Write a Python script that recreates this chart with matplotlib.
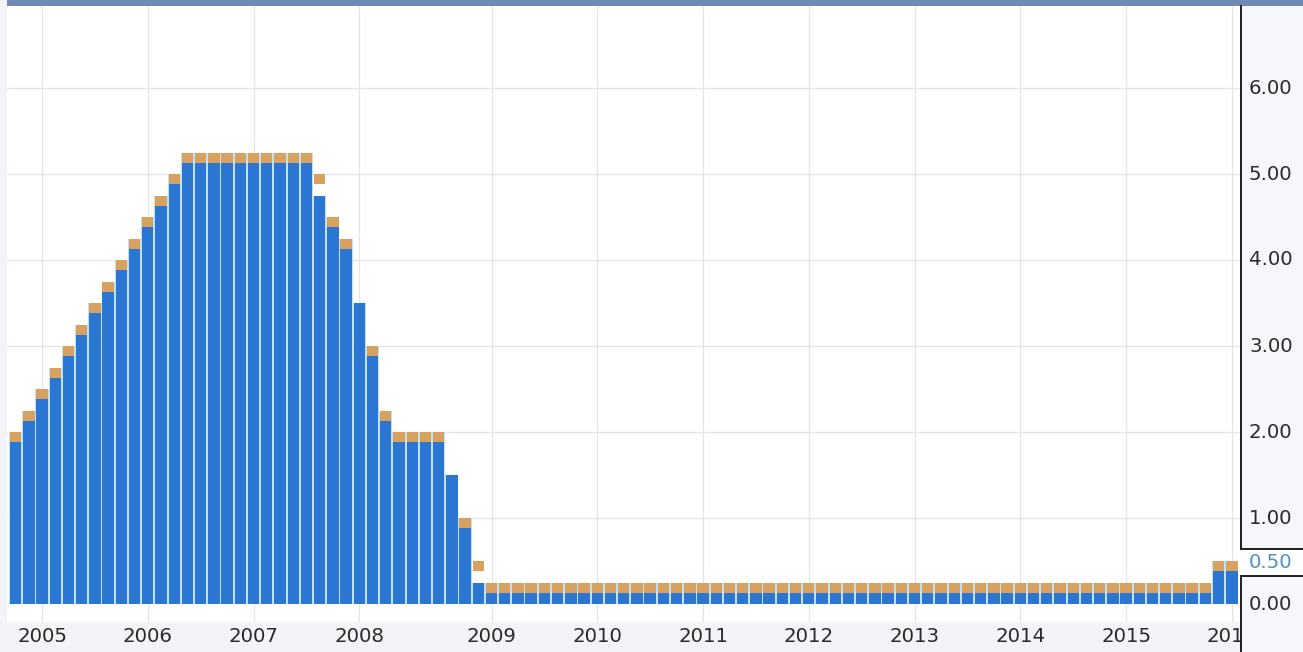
import matplotlib
matplotlib.use('Agg')
import matplotlib.pyplot as plt
import numpy as np
from matplotlib.patches import Rectangle
from matplotlib.lines import Line2D
from matplotlib.transforms import blended_transform_factory

# ---------------- data (one entry per FOMC meeting, Nov 2004 - Jan 2016) -------------
actual = [
    2.00, 2.25,                                           # 2004 (Nov, Dec)
    2.50, 2.75, 3.00, 3.25, 3.50, 3.75, 4.00, 4.25,       # 2005
    4.50, 4.75, 5.00, 5.25, 5.25, 5.25, 5.25, 5.25,       # 2006
    5.25, 5.25, 5.25, 5.25, 5.25, 4.75, 4.50, 4.25,       # 2007
    3.50, 3.00, 2.25, 2.00, 2.00, 2.00, 2.00, 1.50, 1.00, 0.25,  # 2008
    0.25, 0.25, 0.25, 0.25, 0.25, 0.25, 0.25, 0.25,       # 2009
    0.25, 0.25, 0.25, 0.25, 0.25, 0.25, 0.25, 0.25,       # 2010
    0.25, 0.25, 0.25, 0.25, 0.25, 0.25, 0.25, 0.25,       # 2011
    0.25, 0.25, 0.25, 0.25, 0.25, 0.25, 0.25, 0.25,       # 2012
    0.25, 0.25, 0.25, 0.25, 0.25, 0.25, 0.25, 0.25,       # 2013
    0.25, 0.25, 0.25, 0.25, 0.25, 0.25, 0.25, 0.25,       # 2014
    0.25, 0.25, 0.25, 0.25, 0.25, 0.25, 0.25, 0.50,       # 2015
    0.50,                                                 # 2016
]
forecast = [
    2.00, 2.25,
    2.50, 2.75, 3.00, 3.25, 3.50, 3.75, 4.00, 4.25,
    4.50, 4.75, 5.00, 5.25, 5.25, 5.25, 5.25, 5.25,
    5.25, 5.25, 5.25, 5.25, 5.25, 5.00, 4.50, 4.25,
    np.nan, 3.00, 2.25, 2.00, 2.00, 2.00, 2.00, np.nan, 1.00, 0.50,
    0.25, 0.25, 0.25, 0.25, 0.25, 0.25, 0.25, 0.25,
    0.25, 0.25, 0.25, 0.25, 0.25, 0.25, 0.25, 0.25,
    0.25, 0.25, 0.25, 0.25, 0.25, 0.25, 0.25, 0.25,
    0.25, 0.25, 0.25, 0.25, 0.25, 0.25, 0.25, 0.25,
    0.25, 0.25, 0.25, 0.25, 0.25, 0.25, 0.25, 0.25,
    0.25, 0.25, 0.25, 0.25, 0.25, 0.25, 0.25, 0.25,
    0.25, 0.25, 0.25, 0.25, 0.25, 0.25, 0.25, 0.50,
    0.50,
]
year_labels = ['2005', '2006', '2007', '2008', '2009', '2010',
               '2011', '2012', '2013', '2014', '2015', '2016']
year_first_meeting = [2, 10, 18, 26, 36, 44, 52, 60, 68, 76, 84, 92]
y_ticks = [0, 1, 2, 3, 4, 5, 6]
y_tick_labels = ['0.00', '1.00', '2.00', '3.00', '4.00', '5.00', '6.00']
current_value = 0.50
current_label = '0.50'

# ---------------- figure ----------------
W, H = 1303, 652
fig = plt.figure(figsize=(W / 100, H / 100), dpi=100)
fig.patch.set_facecolor('#f2f4f7')

ax_left, ax_right, ax_top, ax_bottom = 7, 1241, 6, 622
ax = fig.add_axes([ax_left / W, 1 - ax_bottom / H,
                   (ax_right - ax_left) / W, (ax_bottom - ax_top) / H])
ax.set_facecolor('white')

blue = '#2b76d3'
orange = '#d9a160'
sep = '#bfe2f2'
x = np.arange(len(actual))
act = np.array(actual)
fc = np.array(forecast, dtype=float)
mark_h = 0.12
bw = 0.86

ax.bar(x, act, width=1.0, color=sep, edgecolor='none', zorder=1.5)
ax.bar(x, act, width=bw, color=blue, edgecolor='none', zorder=2)
ax.bar(x, np.full(len(fc), mark_h), bottom=fc - mark_h, width=bw,
       color=orange, edgecolor='none', zorder=3)

# value scale: 0 at y=604, 86 px per unit
px = 86.0
y0 = 604
ax.set_ylim(-(ax_bottom - y0) / px, (y0 - ax_top) / px)
x_left = (ax_left - 15.6) / 13.22
x_right = x_left + (ax_right - ax_left) / 13.22
ax.set_xlim(x_left, x_right)

ax.set_xticks(year_first_meeting)
ax.set_yticks(y_ticks[1:])
ax.grid(True, color='#e3e6ea', linewidth=1.0, zorder=0)
ax.set_axisbelow(True)
ax.tick_params(length=0, labelbottom=False, labelleft=False)
for s in ax.spines.values():
    s.set_visible(False)

# x labels (years)
tr = blended_transform_factory(ax.transData, fig.transFigure)
for xi, lab in zip(year_first_meeting, year_labels):
    ax.text(xi, 1 - 636.5 / H, lab, transform=tr, ha='center', va='center',
            fontsize=14.2, color='#2b2b2b', family='DejaVu Sans', clip_on=False)

# top band
fig.add_artist(Rectangle((ax_left / W, 1 - 6 / H), 1 - ax_left / W, 6 / H,
                         transform=fig.transFigure, facecolor='#7189b5',
                         edgecolor='none', zorder=5))

# right panel
fig.add_artist(Rectangle((ax_right / W, 0), 1 - ax_right / W, 1 - 6 / H,
                         transform=fig.transFigure, facecolor='#f5f7fa',
                         edgecolor='none', zorder=5))
fig.add_artist(Rectangle((ax_right / W, 1 - 576 / H), 1 - ax_right / W, 27 / H,
                         transform=fig.transFigure, facecolor='white',
                         edgecolor='none', zorder=5))
lc = '#1e1e1e'
fig.add_artist(Line2D([ax_right / W, ax_right / W], [1 - 6 / H, 1 - 549 / H],
                      transform=fig.transFigure, color=lc, lw=1.4, zorder=6))
fig.add_artist(Line2D([ax_right / W, 1], [1 - 549 / H, 1 - 549 / H],
                      transform=fig.transFigure, color=lc, lw=1.4, zorder=6))
fig.add_artist(Line2D([ax_right / W, 1], [1 - 576 / H, 1 - 576 / H],
                      transform=fig.transFigure, color=lc, lw=1.4, zorder=6))
fig.add_artist(Line2D([ax_right / W, ax_right / W], [0, 1 - 576 / H],
                      transform=fig.transFigure, color=lc, lw=1.4, zorder=6))

# y labels on the right
for v, lab in zip(y_ticks, y_tick_labels):
    yp = y0 - v * px
    fig.text(1249 / W, 1 - yp / H, lab, ha='left', va='center', fontsize=14.2,
             color='#2b2b2b', family='DejaVu Sans', zorder=7)
# current value tag
fig.text(1249 / W, 1 - 563 / H, current_label, ha='left', va='center', fontsize=14.2,
         color='#4f95c9', family='DejaVu Sans', zorder=7)

fig.savefig('out.png', dpi=100, facecolor=fig.get_facecolor())
